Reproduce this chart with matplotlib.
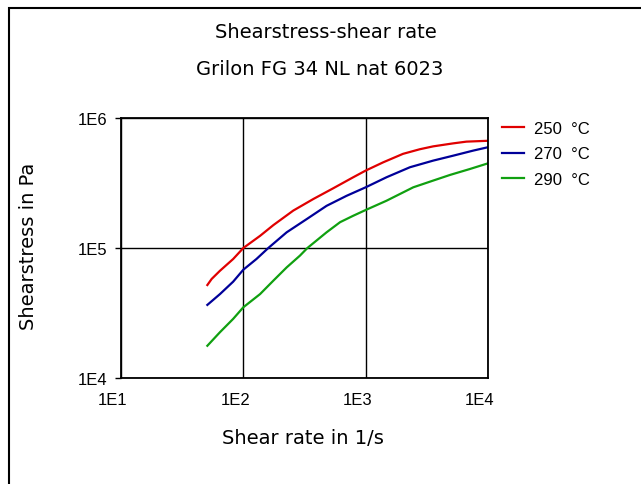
import matplotlib
matplotlib.use("Agg")
import matplotlib.pyplot as plt
from matplotlib.patches import Rectangle
from matplotlib.transforms import ScaledTranslation

plt.rcParams['font.family'] = ['Liberation Sans', 'DejaVu Sans']

title1 = "Shearstress-shear rate"
title2 = "Grilon FG 34 NL nat 6023"
xlabel = "Shear rate in 1/s"
ylabel = "Shearstress in Pa"
xticks = [10, 100, 1000, 10000]
xticklabels = ["1E1", "1E2", "1E3", "1E4"]
yticks = [1e4, 1e5, 1e6]
yticklabels = ["1E4", "1E5", "1E6"]

series_names = ["250  °C", "270  °C", "290  °C"]
series_colors = ["#e00000", "#000099", "#10a010"]

x_250 = [50.8, 55.1, 64.4, 82.6, 100, 137, 176, 256, 373, 543, 791, 1000,
         1390, 2020, 2770, 3560, 5190, 6670, 10000]
y_250 = [51900, 57800, 66800, 82300, 100000, 124000, 150000, 194000, 238000, 288000, 350000, 394000,
         456000, 530000, 575000, 605000, 638000, 658000, 668000]

x_270 = [50.8, 64.4, 82.6, 100, 128, 160, 226, 330, 479, 698, 1000,
         1480, 2300, 3560, 5190, 7550, 10000]
y_270 = [36500, 44200, 55100, 68100, 82300, 100000, 132000, 167000, 211000, 252000, 293000,
         350000, 418000, 470000, 513000, 561000, 596000]

x_290 = [50.8, 64.4, 82.6, 100, 137, 176, 226, 290, 334, 479, 618, 791, 1000,
         1480, 2450, 3560, 4900, 7100, 10000]
y_290 = [17700, 22500, 28500, 35000, 44200, 56100, 70900, 87300, 100000, 132000, 158000, 177000, 196000,
         231000, 293000, 330000, 365000, 405000, 448000]

W, H = 641, 485
fig = plt.figure(figsize=(W / 100, H / 100), dpi=100)
ax = fig.add_axes([121 / W, 1 - 379 / H, (488 - 121) / W, (379 - 119) / H])

for xs, ys, c, n in zip([x_250, x_270, x_290], [y_250, y_270, y_290], series_colors, series_names):
    ax.plot(xs, ys, color=c, lw=1.6, label=n, solid_joinstyle='round')

ax.set_xscale('log')
ax.set_yscale('log')
ax.set_xlim(10, 10000)
ax.set_ylim(1e4, 1e6)
ax.set_xticks(xticks)
ax.set_xticklabels(xticklabels)
ax.set_yticks(yticks)
ax.set_yticklabels(yticklabels)
ax.minorticks_off()
ax.grid(True, color='black', lw=1.0)
ax.tick_params(axis='x', length=0, pad=10, labelsize=12)
ax.tick_params(axis='y', length=4, width=1.0, direction='out', pad=6, labelsize=12)
for lbl in ax.get_xticklabels():
    lbl.set_transform(lbl.get_transform() + ScaledTranslation(-8 / 100, 0, fig.dpi_scale_trans))
for s in ax.spines.values():
    s.set_linewidth(1.3)
    s.set_color('black')

lab_font = dict(family=['DejaVu Sans'], fontsize=14)
fig.text(326 / W, 1 - 32 / H, title1, ha='center', va='center', **lab_font)
fig.text(320 / W, 1 - 70 / H, title2, ha='center', va='center', **lab_font)
fig.text(303 / W, 1 - 439 / H, xlabel, ha='center', va='center', **lab_font)
fig.text(29 / W, 1 - 246 / H, ylabel, ha='center', va='center', rotation=90, **lab_font)

leg = ax.legend(loc='upper left', bbox_to_anchor=(502 / W, 1 - 122 / H), bbox_transform=fig.transFigure,
                frameon=False, fontsize=12, handlelength=1.3, handletextpad=0.6,
                labelspacing=0.62, borderpad=0, borderaxespad=0)

fig.add_artist(Rectangle((8.5 / W, -0.2), 1.2, 1.2 - 8.5 / H, transform=fig.transFigure,
                         fill=False, edgecolor='black', lw=1.5, clip_on=False))

fig.savefig("out.png", dpi=100)
